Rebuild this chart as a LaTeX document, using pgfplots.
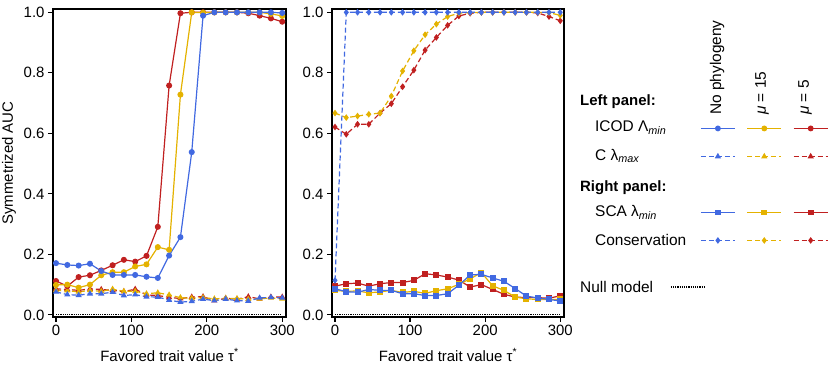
\documentclass[border=0pt]{standalone}
\usepackage{pgfplots}
\usepackage{pgfplotstable}
\pgfplotsset{compat=1.18}
\usepackage{fontspec}
\setmainfont{Liberation Sans}
\definecolor{cb}{RGB}{65,105,225}
\definecolor{cy}{RGB}{228,178,0}
\definecolor{cr}{RGB}{192,32,32}

\pgfplotstableread{
x icodB icodY icodR cB cY cR
0 0.171 0.099 0.112 0.076 0.081 0.086
15 0.165 0.100 0.095 0.067 0.080 0.084
30 0.163 0.090 0.125 0.065 0.076 0.081
45 0.169 0.100 0.131 0.070 0.081 0.086
60 0.145 0.131 0.147 0.070 0.078 0.084
75 0.132 0.141 0.164 0.075 0.085 0.081
90 0.132 0.141 0.182 0.064 0.078 0.077
105 0.132 0.160 0.176 0.067 0.078 0.085
120 0.126 0.167 0.195 0.060 0.070 0.066
135 0.122 0.224 0.291 0.059 0.073 0.064
150 0.196 0.215 0.758 0.049 0.066 0.058
165 0.257 0.728 0.997 0.042 0.057 0.054
180 0.538 1.000 1.000 0.045 0.055 0.059
195 0.989 0.999 1.000 0.052 0.057 0.060
210 1.000 1.000 1.000 0.047 0.053 0.047
225 1.000 1.000 1.000 0.052 0.055 0.055
240 1.000 1.000 1.000 0.047 0.054 0.052
255 1.000 1.000 0.997 0.046 0.052 0.060
270 1.000 1.000 0.989 0.056 0.053 0.053
285 1.000 0.995 0.980 0.058 0.056 0.059
300 0.998 0.988 0.969 0.056 0.053 0.059
}\lefttab

\pgfplotstableread{
x scaB scaY scaR consB consY consR
0 0.087 0.081 0.095 0.114 0.667 0.621
15 0.076 0.078 0.103 1.000 0.652 0.597
30 0.075 0.079 0.105 1.000 0.657 0.630
45 0.084 0.073 0.095 1.000 0.663 0.630
60 0.081 0.076 0.103 1.000 0.667 0.667
75 0.081 0.081 0.107 1.000 0.723 0.698
90 0.070 0.074 0.107 1.000 0.806 0.754
105 0.070 0.078 0.114 1.000 0.873 0.809
120 0.064 0.071 0.136 1.000 0.926 0.875
135 0.064 0.080 0.132 1.000 0.961 0.917
150 0.070 0.086 0.125 1.000 0.986 0.957
165 0.098 0.101 0.115 1.000 0.997 0.988
180 0.132 0.119 0.092 1.000 0.999 0.997
195 0.134 0.140 0.100 1.000 1.000 1.000
210 0.122 0.096 0.084 1.000 1.000 1.000
225 0.111 0.081 0.068 1.000 1.000 1.000
240 0.087 0.059 0.059 1.000 1.000 1.000
255 0.062 0.053 0.057 1.000 1.000 1.000
270 0.056 0.051 0.057 1.000 1.000 0.998
285 0.051 0.051 0.055 1.000 0.999 0.986
300 0.046 0.051 0.063 1.000 0.990 0.972
}\righttab

\pgfplotsset{
  myaxis/.style={
    scale only axis, width=233bp, height=308bp,
    xmin=-4, xmax=305, ymin=-0.007, ymax=1.011,
    xtick={0,100,200,300}, ytick={0,0.2,0.4,0.6,0.8,1.0},
    yticklabel style={/pgf/number format/fixed, /pgf/number format/fixed zerofill, /pgf/number format/precision=1},
    /pgf/number format/assume math mode=true,
    tick align=outside, tick pos=left, major tick length=5bp,
    axis line style={line width=1.3bp},
    every tick/.style={black, line width=1.2bp},
    ticklabel style={font=\fontsize{15}{15}\selectfont},
    label style={font=\fontsize{15}{15}\selectfont},
    xlabel={Favored trait value τ\textsuperscript{*}},
    xlabel style={at={(axis description cs:0.5,-0.123)}, anchor=center},
    every axis plot/.append style={line width=1.2bp, mark size=2.4bp},
    legend image code/.code={\draw[line width=1.4bp, mark size=2.2bp, mark repeat=2,mark phase=2] plot coordinates {(0bp,0bp)(17bp,0bp)(34bp,0bp)};},
  },
  dsh/.style={dash pattern=on 5bp off 3bp},
}

\begin{document}
\begin{tikzpicture}
\useasboundingbox (0,0) rectangle (830bp,372bp);

\begin{axis}[myaxis, at={(53bp,55bp)}, anchor=south west,
  ylabel={Symmetrized AUC},
  ylabel style={at={(axis description cs:-0.189,0.5)}, anchor=center},
  legend style={draw=none, fill=none, inner sep=0pt, nodes={inner sep=0pt},
    at={(axis description cs:2.648,0.0974)}, anchor=west},
]
\addplot[black, densely dotted, line width=1bp] coordinates {(0,0) (300,0)};
\addlegendentry{}
\addplot[cr, dsh, mark=triangle*, mark options={solid}, forget plot] table[x=x,y=cR] {\lefttab};
\addplot[cy, dsh, mark=triangle*, mark options={solid}, forget plot] table[x=x,y=cY] {\lefttab};
\addplot[cb, dsh, mark=triangle*, mark options={solid}, forget plot] table[x=x,y=cB] {\lefttab};
\addplot[cr, mark=*, forget plot] table[x=x,y=icodR] {\lefttab};
\addplot[cy, mark=*, forget plot] table[x=x,y=icodY] {\lefttab};
\addplot[cb, mark=*, forget plot] table[x=x,y=icodB] {\lefttab};
\end{axis}

\begin{axis}[myaxis, at={(332bp,55bp)}, anchor=south west, width=232bp,
  legend columns=3,
  legend style={draw=none, fill=none, inner sep=0pt,
    nodes={inner sep=0pt, minimum height=8bp},
    column sep=5bp, row sep=20bp,
    at={(axis description cs:1.5862,0.6258)}, anchor=north west},
]
\addplot[black, densely dotted, line width=1bp, forget plot] coordinates {(0,0) (300,0)};
\addplot[cr, mark=square*, forget plot] table[x=x,y=scaR] {\righttab};
\addplot[cy, mark=square*, forget plot] table[x=x,y=scaY] {\righttab};
\addplot[cb, mark=square*, forget plot] table[x=x,y=scaB] {\righttab};
\addplot[cr, dsh, mark=diamond*, mark options={solid}, forget plot] table[x=x,y=consR] {\righttab};
\addplot[cy, dsh, mark=diamond*, mark options={solid}, forget plot] table[x=x,y=consY] {\righttab};
\addplot[cb, dsh, mark=diamond*, mark options={solid}, forget plot] table[x=x,y=consB] {\righttab};

\addlegendimage{cb, mark=*}\addlegendentry{}
\addlegendimage{cy, mark=*}\addlegendentry{}
\addlegendimage{cr, mark=*}\addlegendentry{}
\addlegendimage{cb, dsh, mark=triangle*, mark options={solid}}\addlegendentry{}
\addlegendimage{cy, dsh, mark=triangle*, mark options={solid}}\addlegendentry{}
\addlegendimage{cr, dsh, mark=triangle*, mark options={solid}}\addlegendentry{}
\addlegendimage{empty legend}\addlegendentry{}
\addlegendimage{empty legend}\addlegendentry{}
\addlegendimage{empty legend}\addlegendentry{}
\addlegendimage{cb, mark=square*}\addlegendentry{}
\addlegendimage{cy, mark=square*}\addlegendentry{}
\addlegendimage{cr, mark=square*}\addlegendentry{}
\addlegendimage{cb, dsh, mark=diamond*, mark options={solid}}\addlegendentry{}
\addlegendimage{cy, dsh, mark=diamond*, mark options={solid}}\addlegendentry{}
\addlegendimage{cr, dsh, mark=diamond*, mark options={solid}}\addlegendentry{}
\end{axis}

\begin{scope}[every node/.style={font=\fontsize{15.5}{15.5}\selectfont, inner sep=0pt}]
\node[rotate=90, anchor=west] at (717bp,257bp) {No phylogeny};
\node[rotate=90, anchor=west] at (762bp,257bp) {\textit{μ} = 15};
\node[rotate=90, anchor=west] at (805bp,257bp) {\textit{μ} = 5};
\node[anchor=west, font=\fontsize{15}{15}\selectfont\bfseries] at (580bp,270bp) {Left panel:};
\node[anchor=west] at (595bp,244bp) {ICOD Λ\textsubscript{\textit{min}}};
\node[anchor=west] at (595bp,216bp) {C λ\textsubscript{\textit{max}}};
\node[anchor=west, font=\fontsize{15}{15}\selectfont\bfseries] at (580bp,184bp) {Right panel:};
\node[anchor=west] at (595bp,160bp) {SCA λ\textsubscript{\textit{min}}};
\node[anchor=west] at (595bp,132bp) {Conservation};
\node[anchor=west] at (580bp,85bp) {Null model};
\end{scope}
\end{tikzpicture}
\end{document}
